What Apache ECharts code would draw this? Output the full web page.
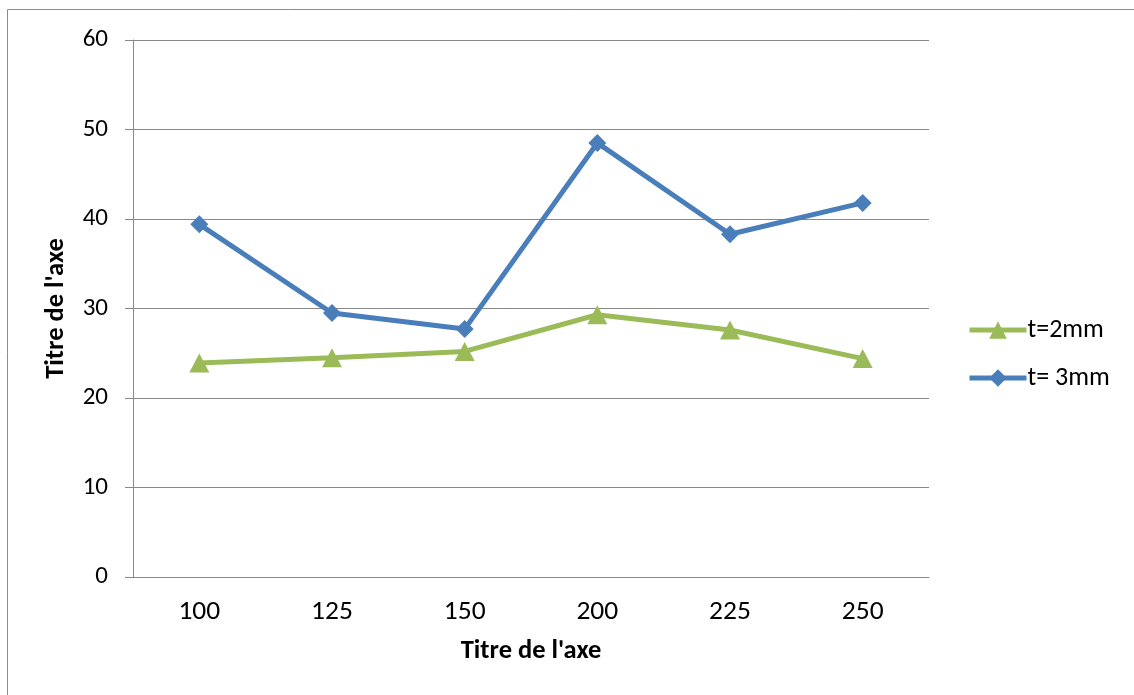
<!DOCTYPE html>
<html>
<head>
<meta charset="utf-8">
<script src="https://cdn.jsdelivr.net/npm/echarts@6/dist/echarts.min.js"></script>
<style>
  html, body { margin: 0; padding: 0; background: #fff; }
  #chart { width: 1134px; height: 695px; }
</style>
</head>
<body>
<div id="chart"></div>
<script>
// Thickness categories and measured values
const categories = ['100', '125', '150', '200', '225', '250'];
const t2mm = [23.9, 24.5, 25.2, 29.3, 27.6, 24.4];
const t3mm = [39.4, 29.5, 27.7, 48.5, 38.3, 41.8];
const seriesNames = ['t=2mm', 't= 3mm'];
const axisTitle = "Titre de l'axe";

const FONT = 'Carlito, "Open Sans", "Liberation Sans", sans-serif';
const GREEN = '#9BBB59';
const BLUE = '#4A7EBB';
const GRID_GRAY = '#898989';

const chart = echarts.init(document.getElementById('chart'), null, { renderer: 'canvas' });

chart.setOption({
  backgroundColor: '#ffffff',
  animation: false,
  textStyle: { fontFamily: FONT },
  graphic: [{
    type: 'rect',
    shape: { x: 7.5, y: 9.5, width: 1140, height: 700 },
    style: { fill: 'none', stroke: '#8C8C8C', lineWidth: 1 },
    silent: true
  }],
  grid: { left: 133, right: 205, top: 40, bottom: 118 },
  legend: {
    orient: 'vertical',
    left: 967,
    top: 317,
    padding: 0,
    itemGap: 22,
    itemWidth: 57,
    itemHeight: 22,
    lineStyle: { width: 5 },
    textStyle: { fontFamily: FONT, fontSize: 26, color: '#000', padding: [0, 0, 0, -4] },
    data: seriesNames
  },
  xAxis: {
    type: 'category',
    data: categories,
    boundaryGap: true,
    name: axisTitle,
    nameLocation: 'middle',
    nameGap: 61,
    nameTextStyle: { fontFamily: FONT, fontSize: 26.5, fontWeight: 'bold', color: '#000' },
    axisLine: { show: true, lineStyle: { color: GRID_GRAY, width: 1 } },
    axisTick: { show: false },
    axisLabel: { fontFamily: FONT, fontSize: 27.5, color: '#000', margin: 21 }
  },
  yAxis: {
    type: 'value',
    min: 0,
    max: 60,
    interval: 10,
    name: axisTitle,
    nameLocation: 'middle',
    nameGap: 63,
    nameRotate: 90,
    nameTextStyle: { fontFamily: FONT, fontSize: 26.5, fontWeight: 'bold', color: '#000' },
    axisLine: { show: true, lineStyle: { color: GRID_GRAY, width: 1 } },
    axisTick: { show: true, length: 8, inside: false, lineStyle: { color: GRID_GRAY } },
    axisLabel: { fontFamily: FONT, fontSize: 25, color: '#000', margin: 25 },
    splitLine: { show: true, lineStyle: { color: GRID_GRAY, width: 1 } }
  },
  series: [
    {
      name: seriesNames[0],
      type: 'line',
      data: t2mm,
      symbol: 'triangle',
      symbolSize: [20, 19],
      showAllSymbol: true,
      lineStyle: { color: GREEN, width: 5 },
      itemStyle: { color: GREEN },
      z: 2
    },
    {
      name: seriesNames[1],
      type: 'line',
      data: t3mm,
      symbol: 'diamond',
      symbolSize: 18,
      showAllSymbol: true,
      lineStyle: { color: BLUE, width: 5 },
      itemStyle: { color: BLUE },
      z: 3
    }
  ]
});
</script>
</body>
</html>
